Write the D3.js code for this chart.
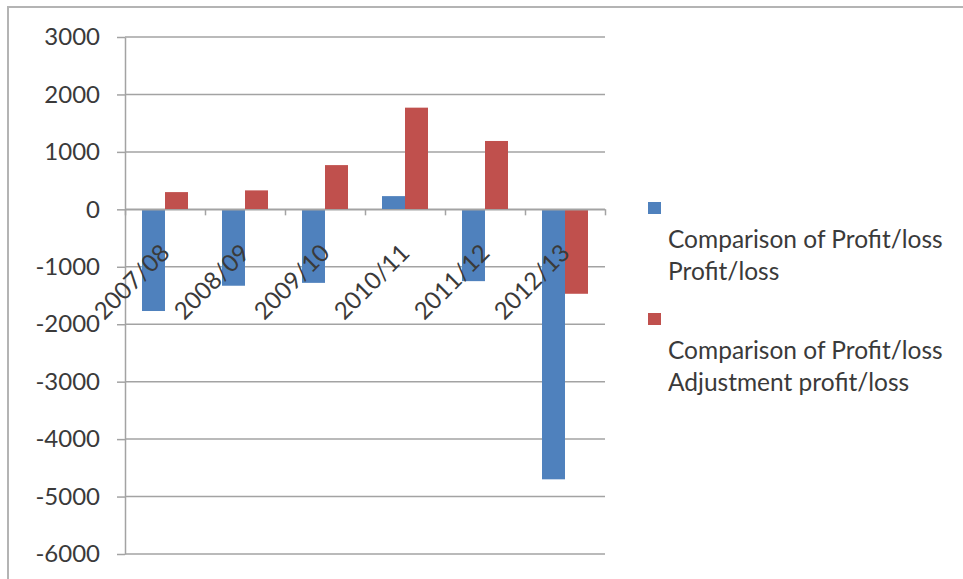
<!DOCTYPE html>
<html>
<head>
<meta charset="utf-8">
<script src="https://cdn.jsdelivr.net/npm/d3@7"></script>
<style>
  body { margin: 0; background: #fff; }
  text { font-family: Lato, "Open Sans", sans-serif; fill: #3a3a3a; }
</style>
</head>
<body>
<svg id="chart" width="963" height="579"></svg>
<script>
// chart data
var categories = ['2007/08', '2008/09', '2009/10', '2010/11', '2011/12', '2012/13'];
var profitLoss = [-1770, -1330, -1280, 230, -1250, -4700];
var adjustment = [300, 330, 770, 1770, 1190, -1470];
var seriesNames = ['Comparison of Profit/loss Profit/loss', 'Comparison of Profit/loss Adjustment profit/loss'];
var legendLines = [['Comparison of Profit/loss', 'Profit/loss'], ['Comparison of Profit/loss', 'Adjustment profit/loss']];
var yTicks = [3000, 2000, 1000, 0, -1000, -2000, -3000, -4000, -5000, -6000];

var colors = ['#4f81bd', '#c0504d'];
var gridColor = '#a3a3a3';

var svg = d3.select('#chart');

// outer chart border (only top/left visible in the frame)
svg.append('rect')
   .attr('x', 8).attr('y', 7)
   .attr('width', 1000).attr('height', 1000)
   .style('fill', '#fff')
   .style('stroke', '#b4b4b4')
   .style('stroke-width', 2);

var plot = {left: 125, right: 605, top: 37, bottom: 554};

var y = d3.scaleLinear().domain([-6000, 3000]).range([plot.bottom, plot.top]);
var x0 = d3.scaleBand().domain(categories)
           .range([plot.left, plot.right])
           .paddingInner(0.425).paddingOuter(0.2125);
var x1 = d3.scaleBand().domain(seriesNames).range([0, x0.bandwidth()]);
var xEdge = d3.scaleLinear().domain([0, categories.length]).range([plot.left, plot.right]);

// gridlines
svg.append('g').selectAll('line')
   .data(yTicks)
   .enter().append('line')
   .attr('x1', plot.left).attr('x2', plot.right)
   .attr('y1', d => y(d)).attr('y2', d => y(d))
   .style('stroke', gridColor)
   .style('stroke-width', 1.5);

// y axis
var yAxis = svg.append('g')
   .attr('transform', 'translate(' + plot.left + ',0)')
   .call(d3.axisLeft(y).tickValues(yTicks).tickSizeInner(8).tickSizeOuter(0).tickPadding(17)
           .tickFormat(d => String(d)));
yAxis.select('.domain').style('stroke', gridColor).style('stroke-width', 1.5);
yAxis.selectAll('.tick line').style('stroke', gridColor).style('stroke-width', 1.5);
yAxis.selectAll('.tick text')
     .style('font-family', 'Lato, sans-serif')
     .style('font-size', '24px')
     .style('fill', '#3a3a3a');

// bars
var rows = categories.map((c, i) => [profitLoss[i], adjustment[i]]);
svg.append('g').selectAll('g')
   .data(rows)
   .enter().append('g')
   .attr('transform', (r, i) => 'translate(' + x0(categories[i]) + ',0)')
   .selectAll('rect')
   .data(r => r)
   .enter().append('rect')
   .attr('x', (v, j) => x1(seriesNames[j]))
   .attr('width', x1.bandwidth())
   .attr('y', v => Math.min(y(v), y(0)))
   .attr('height', v => Math.abs(y(v) - y(0)))
   .style('fill', (v, j) => colors[j]);

// category axis at zero
var xAxis = svg.append('g')
   .attr('transform', 'translate(0,' + y(0) + ')')
   .call(d3.axisBottom(xEdge).tickValues(d3.range(categories.length + 1)).tickSizeInner(6).tickSizeOuter(0).tickFormat(''));
xAxis.select('.domain').style('stroke', gridColor).style('stroke-width', 1.5);
xAxis.selectAll('.tick line').style('stroke', gridColor).style('stroke-width', 1.5);

svg.append('g').selectAll('text')
   .data(categories)
   .enter().append('text')
   .text(d => d)
   .attr('transform', d => 'translate(' + (x0(d) + x0.bandwidth() / 2 + 6) + ',' + (y(0) + 45) + ') rotate(-45)')
   .style('text-anchor', 'end')
   .style('font-size', '24px');

// legend
var legend = svg.append('g').selectAll('g')
   .data(legendLines)
   .enter().append('g')
   .attr('transform', (d, i) => 'translate(648,' + (202 + i * 111) + ')');
legend.append('rect')
   .attr('width', 13).attr('height', 12)
   .style('fill', (d, i) => colors[i]);
legend.append('text')
   .attr('x', 20)
   .style('font-size', '24.5px')
   .selectAll('tspan')
   .data(d => d)
   .enter().append('tspan')
   .attr('x', 20)
   .attr('y', (t, k) => 46 + k * 32)
   .text(t => t);
</script>
</body>
</html>
